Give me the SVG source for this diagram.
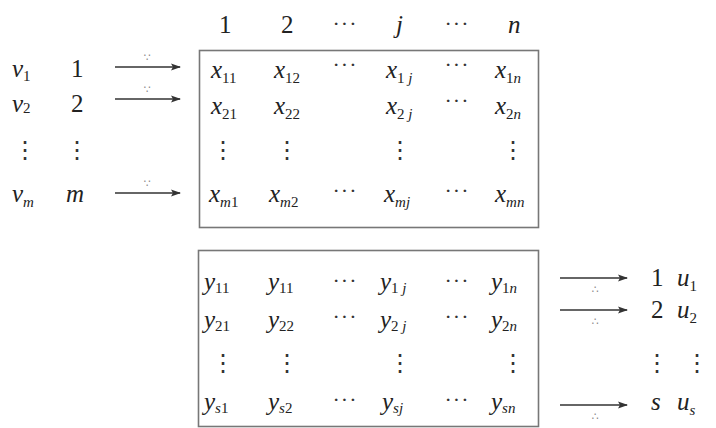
<svg xmlns="http://www.w3.org/2000/svg" width="716" height="428" viewBox="0 0 716 428" font-family="'Liberation Serif', 'Times New Roman', Times, serif">
<defs>
<style>
.t{font-size:25px;fill:#222}
.i{font-style:italic}
.s{font-size:15px}
.u{font-style:normal}
.d{font-size:22px;fill:#333;text-anchor:middle;letter-spacing:1px}
.v{font-family:"DejaVu Sans",sans-serif;font-size:24px;fill:#333;text-anchor:middle}
.k{font-family:"DejaVu Sans",sans-serif;font-size:11px;fill:#888;text-anchor:middle}
.box{fill:none;stroke:#777;stroke-width:1.6}
.ar{stroke:#333;stroke-width:1.6;fill:none;marker-end:url(#ah)}
</style>
<marker id="ah" markerWidth="10" markerHeight="8" refX="9" refY="4" orient="auto" markerUnits="userSpaceOnUse">
<path d="M0,0.5 L10,4 L0,7.5 L2,4 Z" fill="#333"/>
</marker>
</defs>
<rect width="716" height="428" fill="#fff"/>

<g id="header">
<text class="t" x="219" y="33">1</text>
<text class="t" x="281" y="33">2</text>
<text class="d" x="345" y="31">···</text>
<text class="t i" x="396" y="33">j</text>
<text class="d" x="457" y="31">···</text>
<text class="t i" x="508" y="33">n</text>
</g>

<g id="left-labels">
<text class="t i" x="12" y="77">v<tspan class="s u" dy="4">1</tspan></text>
<text class="t" x="71" y="77">1</text>
<text class="t i" x="12" y="112">v<tspan class="s u" dy="1">2</tspan></text>
<text class="t" x="71" y="112">2</text>
<text class="v" x="25" y="158">⋮</text>
<text class="v" x="77" y="158">⋮</text>
<text class="t i" x="12" y="202">v<tspan class="s" dy="5">m</tspan></text>
<text class="t i" x="66" y="202">m</text>
</g>

<g id="matrix-x">
<rect class="box" x="199.5" y="50.5" width="339" height="177"/>
<text class="t i" x="211" y="78">x<tspan class="s u" dy="5">11</tspan></text>
<text class="t i" x="274" y="78">x<tspan class="s u" dy="5">12</tspan></text>
<text class="d" x="345" y="72">···</text>
<text class="t i" x="386" y="78">x<tspan class="s" dy="5"><tspan class="u">1</tspan> j</tspan></text>
<text class="d" x="457" y="72">···</text>
<text class="t i" x="495" y="78">x<tspan class="s" dy="5"><tspan class="u">1</tspan>n</tspan></text>

<text class="t i" x="211" y="114">x<tspan class="s u" dy="5">21</tspan></text>
<text class="t i" x="274" y="114">x<tspan class="s u" dy="5">22</tspan></text>
<text class="t i" x="386" y="114">x<tspan class="s" dy="5"><tspan class="u">2</tspan> j</tspan></text>
<text class="d" x="457" y="108">···</text>
<text class="t i" x="495" y="114">x<tspan class="s" dy="5"><tspan class="u">2</tspan>n</tspan></text>

<text class="v" x="223" y="158">⋮</text>
<text class="v" x="287" y="158">⋮</text>
<text class="v" x="400" y="158">⋮</text>
<text class="v" x="513" y="158">⋮</text>

<text class="t i" x="209" y="202">x<tspan class="s" dy="5">m<tspan class="u">1</tspan></tspan></text>
<text class="t i" x="269" y="202">x<tspan class="s" dy="5">m<tspan class="u">2</tspan></tspan></text>
<text class="d" x="345" y="198">···</text>
<text class="t i" x="384" y="202">x<tspan class="s" dy="5">mj</tspan></text>
<text class="d" x="457" y="198">···</text>
<text class="t i" x="495" y="202">x<tspan class="s" dy="5">mn</tspan></text>
</g>

<g id="matrix-y">
<rect class="box" x="198.5" y="250.5" width="340" height="176"/>
<text class="t i" x="204" y="290">y<tspan class="s u" dy="3">11</tspan></text>
<text class="t i" x="268" y="290">y<tspan class="s u" dy="3">11</tspan></text>
<text class="d" x="345" y="288">···</text>
<text class="t i" x="380" y="290">y<tspan class="s" dy="3"><tspan class="u">1</tspan> j</tspan></text>
<text class="d" x="457" y="288">···</text>
<text class="t i" x="491" y="290">y<tspan class="s" dy="3"><tspan class="u">1</tspan>n</tspan></text>

<text class="t i" x="204" y="328">y<tspan class="s u" dy="3">21</tspan></text>
<text class="t i" x="268" y="328">y<tspan class="s u" dy="3">22</tspan></text>
<text class="d" x="345" y="324">···</text>
<text class="t i" x="380" y="328">y<tspan class="s" dy="3"><tspan class="u">2</tspan> j</tspan></text>
<text class="d" x="457" y="324">···</text>
<text class="t i" x="491" y="328">y<tspan class="s" dy="3"><tspan class="u">2</tspan>n</tspan></text>

<text class="v" x="223" y="371">⋮</text>
<text class="v" x="287" y="371">⋮</text>
<text class="v" x="400" y="371">⋮</text>
<text class="v" x="513" y="371">⋮</text>

<text class="t i" x="204" y="410">y<tspan class="s" dy="3">s<tspan class="u">1</tspan></tspan></text>
<text class="t i" x="268" y="410">y<tspan class="s" dy="3">s<tspan class="u">2</tspan></tspan></text>
<text class="d" x="345" y="407">···</text>
<text class="t i" x="382" y="410">y<tspan class="s" dy="3">sj</tspan></text>
<text class="d" x="457" y="407">···</text>
<text class="t i" x="491" y="410">y<tspan class="s" dy="3">sn</tspan></text>
</g>

<g id="right-labels">
<text class="t" x="651" y="286">1</text>
<text class="t i" x="677" y="286">u<tspan class="s u" dy="5">1</tspan></text>
<text class="t" x="651" y="318">2</text>
<text class="t i" x="677" y="318">u<tspan class="s u" dy="5">2</tspan></text>
<text class="v" x="657" y="371">⋮</text>
<text class="v" x="697" y="371">⋮</text>
<text class="t i" x="651" y="410">s</text>
<text class="t i" x="677" y="410">u<tspan class="s" dy="5">s</tspan></text>
</g>

<g id="connectors">
<line class="ar" x1="115" y1="67" x2="180" y2="67"/>
<text class="k" x="147" y="61">∵</text>
<line class="ar" x1="115" y1="99" x2="180" y2="99"/>
<text class="k" x="147" y="93">∵</text>
<line class="ar" x1="115" y1="193" x2="180" y2="193"/>
<text class="k" x="147" y="187">∵</text>
<line class="ar" x1="560" y1="278" x2="627" y2="278"/>
<text class="k" x="595" y="293">∴</text>
<line class="ar" x1="560" y1="310" x2="627" y2="310"/>
<text class="k" x="595" y="325">∴</text>
<line class="ar" x1="560" y1="405" x2="627" y2="405"/>
<text class="k" x="595" y="420">∴</text>
</g>
</svg>
